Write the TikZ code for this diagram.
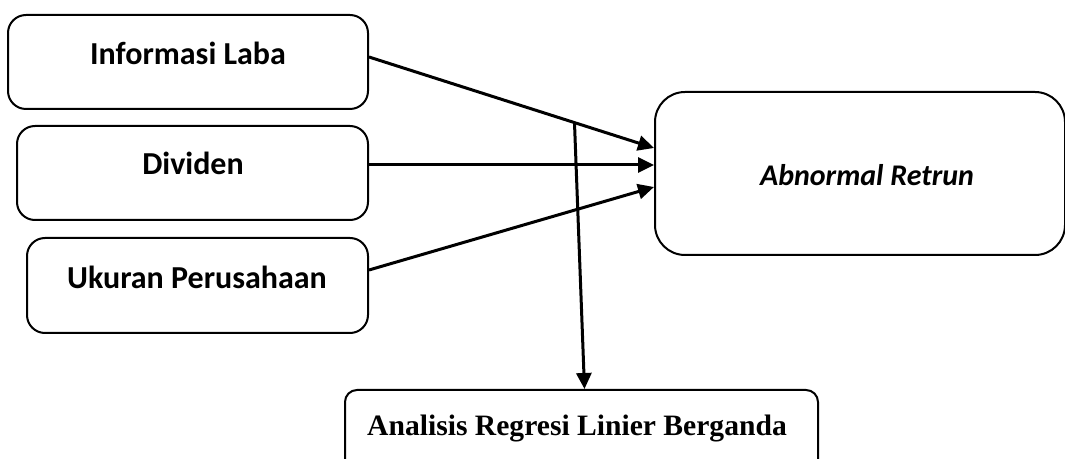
\documentclass[tikz,border=0pt]{standalone}
\usepackage{fontspec}
\setmainfont{Liberation Serif}
\newfontfamily\calib{Carlito}
\usetikzlibrary{arrows.meta}
\begin{document}
\begin{tikzpicture}[x=0.5pt,y=-0.5pt,
  box/.style={draw,line width=1pt,rounded corners=9pt,inner sep=0pt},
  lbl/.style={font=\calib\fontsize{16}{19}\bfseries\selectfont,inner sep=0pt},
  arr/.style={line width=1.5pt,-{Triangle[length=8pt,width=7.5pt]}}]
\useasboundingbox (0,0) rectangle (1065,459);
\clip (0,0) rectangle (1065,459);
\node[box,minimum width=180pt,minimum height=47pt] (b1) at (188,62) {};
\node[lbl] (t1) at (188,53) {Informasi Laba};
\node[box,minimum width=175.5pt,minimum height=47pt] (b2) at (192.5,173) {};
\node[lbl] (t2) at (193,163) {Dividen};
\node[box,minimum width=170.5pt,minimum height=47.5pt] (b3) at (197.5,285.5) {};
\node[lbl] (t3) at (197,277) {Ukuran Perusahaan};
\node[box,rounded corners=15pt,minimum width=205pt,minimum height=81.5pt] (b4) at (860,173.5) {};
\node[lbl,font=\calib\fontsize{15}{18}\bfseries\itshape\selectfont] (t4) at (867,175) {Abnormal Retrun};
\node[box,rounded corners=6pt,minimum width=236.5pt,minimum height=50pt] (b5) at (581.5,440) {};
\node[font=\fontsize{14.8}{17}\bfseries\selectfont,inner sep=0pt] (t5) at (577,428) {Analisis Regresi Linier Berganda};
\draw[arr] ([yshift=2.5pt]b1.east) -- coordinate[pos=0.721] (m) ([yshift=12.75pt]b4.west);
\draw[arr] ([yshift=4pt]b2.east) -- ([yshift=4.25pt]b4.west);
\draw[arr] ([yshift=7.75pt]b3.east) -- ([yshift=-6.75pt]b4.west);
\draw[arr] (m) -- ([xshift=1.5pt]b5.north);
\end{tikzpicture}
\end{document}
